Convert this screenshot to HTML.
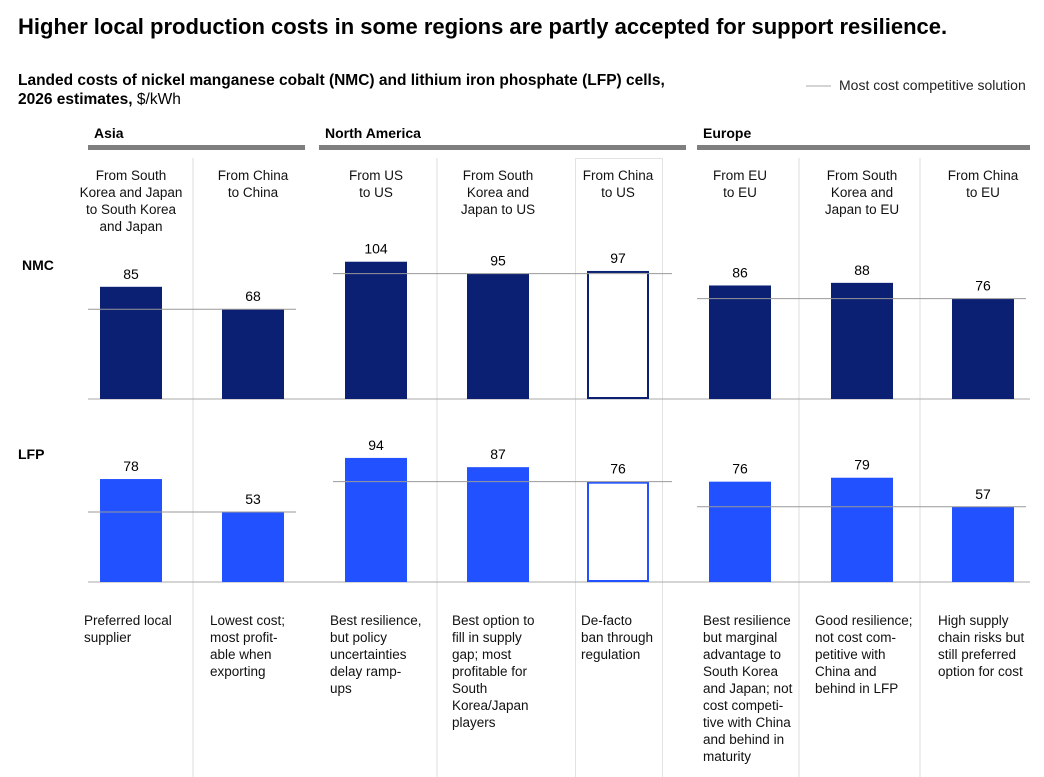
<!DOCTYPE html>
<html><head><meta charset="utf-8"><style>
body{margin:0;background:#fff;font-family:"Liberation Sans",sans-serif;}
svg{display:block}
</style></head><body>
<svg id="c" width="1044" height="777" xmlns="http://www.w3.org/2000/svg">
<text x="18" y="34" font-size="22" font-weight="bold" fill="#000">Higher local production costs in some regions are partly accepted for support resilience.</text>
<text x="18" y="85" font-size="15.5" font-weight="bold" fill="#000">Landed costs of nickel manganese cobalt (NMC) and lithium iron phosphate (LFP) cells,</text>
<text x="18" y="104" font-size="15.5" fill="#000"><tspan font-weight="bold">2026 estimates,</tspan> $/kWh</text>
<line x1="806" y1="86" x2="831" y2="86" stroke="#aaa" stroke-width="1"/>
<text x="839" y="90" font-size="14" fill="#222">Most cost competitive solution</text>
<text x="22" y="270" font-size="14" font-weight="bold">NMC</text>
<text x="18" y="459" font-size="14" font-weight="bold">LFP</text>
<g id="g"></g>
</svg>
<script>
const regions=["Asia","North America","Europe"];
const origins=[["From South","Korea and Japan","to South Korea","and Japan"],["From China","to China"],["From US","to US"],["From South","Korea and","Japan to US"],["From China","to US"],["From EU","to EU"],["From South","Korea and","Japan to EU"],["From China","to EU"]];
const nmc=[85,68,104,95,97,86,88,76];
const lfp=[78,53,94,87,76,76,79,57];
const outlined=[false,false,false,false,true,false,false,false];
const nmcBest=[68,95,76];
const lfpBest=[53,76,57];
const notes=[["Preferred local","supplier"],["Lowest cost;","most profit-","able when","exporting"],["Best resilience,","but policy","uncertainties","delay ramp-","ups"],["Best option to","fill in supply","gap; most","profitable for","South","Korea/Japan","players"],["De-facto","ban through","regulation"],["Best resilience","but marginal","advantage to","South Korea","and Japan; not","cost competi-","tive with China","and behind in","maturity"],["Good resilience;","not cost com-","petitive with","China and","behind in LFP"],["High supply","chain risks but","still preferred","option for cost"]];
const NS="http://www.w3.org/2000/svg",g=document.getElementById('g');
function mk(t,a,txt){const e=document.createElementNS(NS,t);for(const k in a)e.setAttribute(k,a[k]);if(txt!=null)e.textContent=txt;g.appendChild(e);return e;}
const centers=[131,253,376,498,618,740,862,983];
const regionSpan=[[88,305,0,1],[319,686,2,4],[697,1030,5,7]];
const scale=1.32;
const yN=v=>399-v*scale, yL=v=>582-v*scale;
[193,437,799,920].forEach(x=>{const e=mk('line',{x1:x,y1:158,x2:x,y2:777,stroke:'#ddd','stroke-width':1});});
{const e=mk('rect',{x:575.5,y:158.5,width:87,height:620,fill:'none',stroke:'#e2e2e2','stroke-width':1});}
regionSpan.forEach((r,i)=>{
 let e=mk('rect',{x:r[0],y:145,width:r[1]-r[0],height:5,fill:'#7f7f7f'});
 e=mk('text',{x:r[0]+6,y:138,'font-size':14,'font-weight':'bold'},regions[i]);
});
origins.forEach((o,i)=>{o.forEach((l,j)=>{const e=mk('text',{x:centers[i],y:180+j*17,'font-size':13.5,'text-anchor':'middle',fill:'#111'},l);});});
[399,582].forEach(y=>{const e=mk('line',{x1:88,y1:y,x2:1030,y2:y,stroke:'#aaa','stroke-width':1});});
function bars(vals,yf,color,name){
 vals.forEach((v,i)=>{
  const x=centers[i]-31,y=yf(v),h=yf(0)-y;let e;
  if(outlined[i]) e=mk('rect',{x:x+1,y:y+1,width:60,height:h-2,fill:'#fff',stroke:color,'stroke-width':2});
  else e=mk('rect',{x:x,y:y,width:62,height:h,fill:color});
  
  e=mk('text',{x:centers[i],y:y-8,'font-size':14,'text-anchor':'middle',fill:'#000'},v);
  
 });
}
function best(vals,yf,name){
 regionSpan.forEach((r,i)=>{const y=yf(vals[i]);const x1=i==1?333:r[0];const x2=i==0?296:(i==1?672:1026);
  const e=mk('line',{x1:x1,y1:y,x2:x2,y2:y,stroke:'#999','stroke-width':1});});
}
bars(nmc,yN,'#0b1f73','nmc');bars(lfp,yL,'#2251ff','lfp');
best(nmcBest,yN,'nmc');best(lfpBest,yL,'lfp');
const noteX=[84,210,330,452,581,703,815,938];
notes.forEach((n,i)=>n.forEach((l,j)=>{const e=mk('text',{x:noteX[i],y:625+j*17,'font-size':13.5,fill:'#111'},l);}));
</script>
</body></html>
